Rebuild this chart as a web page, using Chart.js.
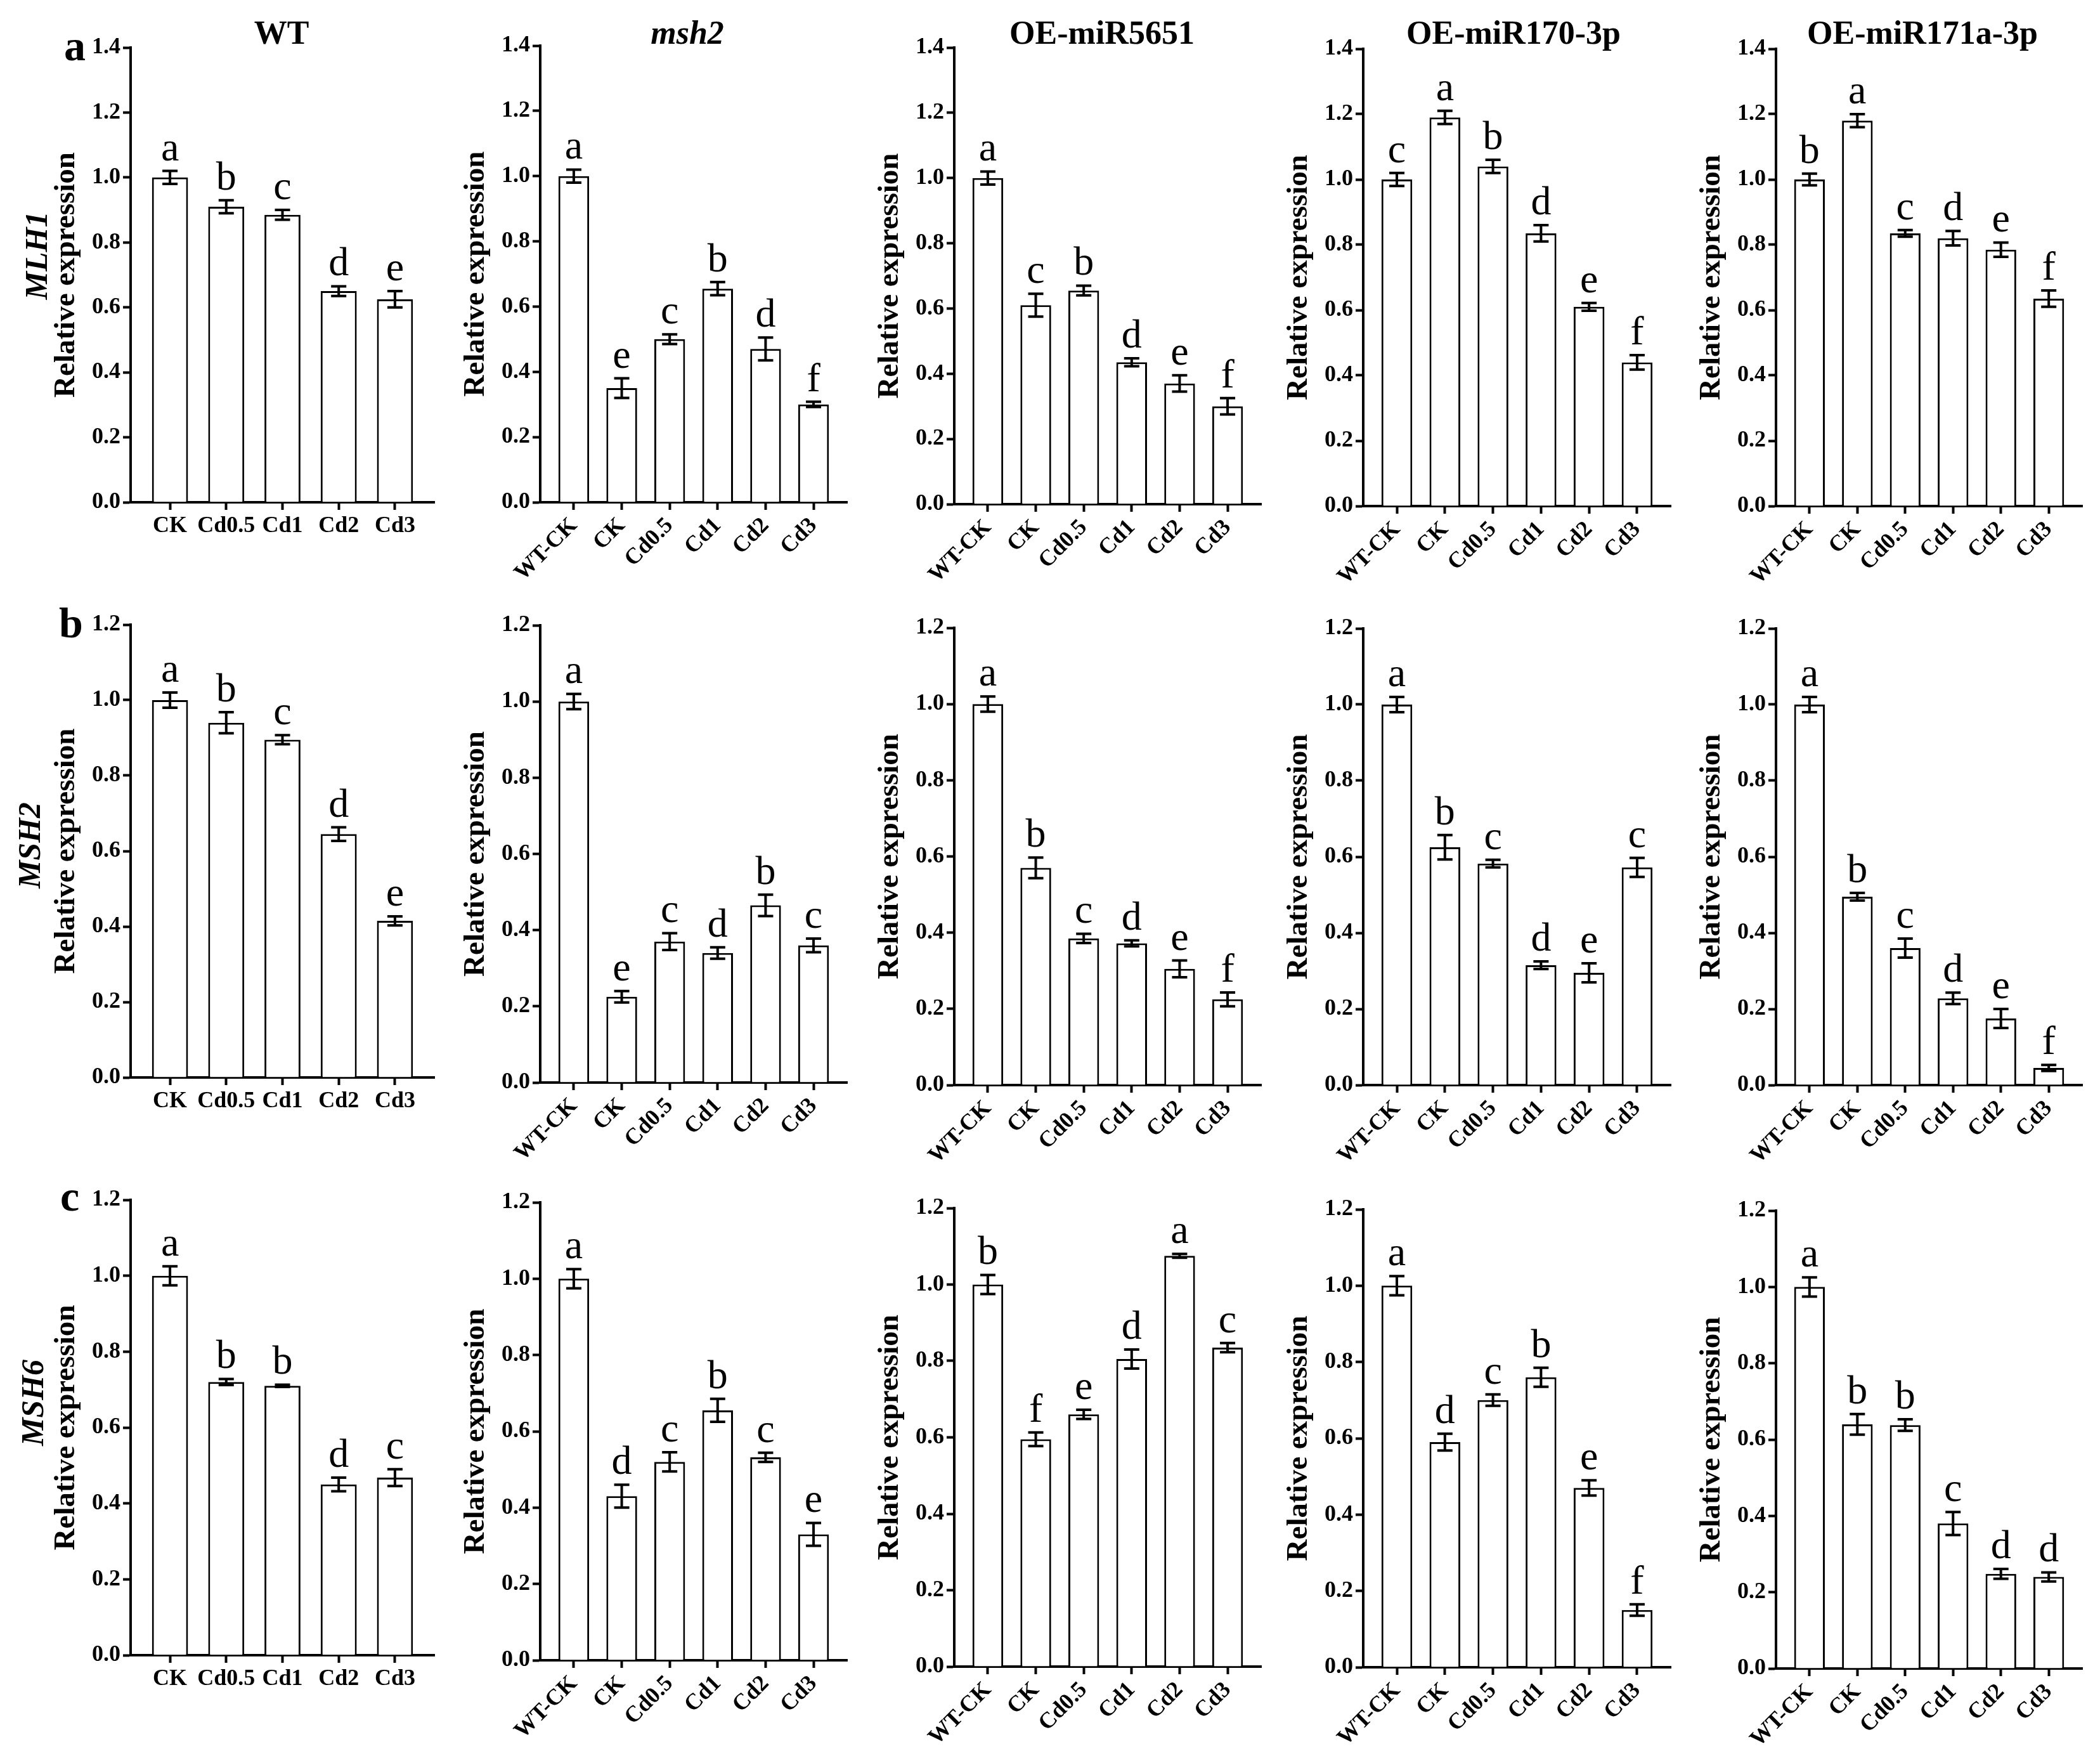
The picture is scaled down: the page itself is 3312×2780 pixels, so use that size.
<!DOCTYPE html>
<html>
<head>
    <meta charset="utf-8">
    <title>MLH1 / MSH2 / MSH6 relative expression</title>
    <script src="https://cdn.jsdelivr.net/npm/chart.js@4.4.1/dist/chart.umd.min.js"></script>
    <style>
        html, body { margin: 0; padding: 0; background: #fff; }
        #page {
            position: relative;
            width: 3312px;
            height: 2780px;
            overflow: hidden;
            font-family: "Liberation Serif", "Times New Roman", serif;
        }
        #page canvas { position: absolute; }
        .lbl {
            position: absolute;
            white-space: nowrap;
            line-height: 1;
            color: #000;
        }
    </style>
</head>
<body>
<div id="page"></div>

<script>
    // Groups, lines and genes
    const lineNames = ['WT', 'msh2', 'OE-miR5651', 'OE-miR170-3p', 'OE-miR171a-3p'];
    const genes = ['MLH1', 'MSH2', 'MSH6'];
    const panelTags = ['a', 'b', 'c'];
    const wtGroups = ['CK', 'Cd0.5', 'Cd1', 'Cd2', 'Cd3'];
    const lineGroups = ['WT-CK', 'CK', 'Cd0.5', 'Cd1', 'Cd2', 'Cd3'];
    const yMax = [1.4, 1.2, 1.2];
    const yTicks = [0, 0.2, 0.4, 0.6, 0.8, 1.0, 1.2, 1.4];

    // MLH1 (row a): one array per line
    const mlh1Mean = [
        [1.00, 0.91, 0.885, 0.65, 0.625],
        [1.00, 0.35, 0.50, 0.655, 0.47, 0.30],
        [1.00, 0.61, 0.655, 0.435, 0.37, 0.30],
        [1.00, 1.19, 1.04, 0.835, 0.61, 0.44],
        [1.00, 1.18, 0.835, 0.82, 0.785, 0.635]
    ];
    const mlh1Err = [
        [0.02, 0.02, 0.015, 0.015, 0.025],
        [0.02, 0.03, 0.015, 0.02, 0.035, 0.008],
        [0.02, 0.035, 0.015, 0.012, 0.025, 0.025],
        [0.02, 0.02, 0.02, 0.025, 0.012, 0.022],
        [0.018, 0.02, 0.01, 0.022, 0.022, 0.025]
    ];
    const mlh1Sig = [
        ['a', 'b', 'c', 'd', 'e'],
        ['a', 'e', 'c', 'b', 'd', 'f'],
        ['a', 'c', 'b', 'd', 'e', 'f'],
        ['c', 'a', 'b', 'd', 'e', 'f'],
        ['b', 'a', 'c', 'd', 'e', 'f']
    ];

    // MSH2 (row b)
    const msh2Mean = [
        [1.00, 0.94, 0.895, 0.645, 0.415],
        [1.00, 0.225, 0.37, 0.34, 0.465, 0.36],
        [1.00, 0.57, 0.385, 0.372, 0.305, 0.225],
        [1.00, 0.625, 0.582, 0.315, 0.295, 0.572],
        [1.00, 0.495, 0.36, 0.228, 0.175, 0.045]
    ];
    const msh2Err = [
        [0.02, 0.028, 0.012, 0.018, 0.012],
        [0.02, 0.015, 0.022, 0.015, 0.028, 0.018],
        [0.02, 0.027, 0.012, 0.008, 0.022, 0.018],
        [0.02, 0.032, 0.01, 0.01, 0.025, 0.025],
        [0.02, 0.01, 0.025, 0.015, 0.025, 0.008]
    ];
    const msh2Sig = [
        ['a', 'b', 'c', 'd', 'e'],
        ['a', 'e', 'c', 'd', 'b', 'c'],
        ['a', 'b', 'c', 'd', 'e', 'f'],
        ['a', 'b', 'c', 'd', 'e', 'c'],
        ['a', 'b', 'c', 'd', 'e', 'f']
    ];

    // MSH6 (row c)
    const msh6Mean = [
        [1.00, 0.72, 0.71, 0.45, 0.468],
        [1.00, 0.43, 0.52, 0.655, 0.532, 0.33],
        [1.00, 0.595, 0.66, 0.805, 1.075, 0.835],
        [1.00, 0.59, 0.70, 0.76, 0.47, 0.15],
        [1.00, 0.64, 0.638, 0.38, 0.248, 0.24]
    ];
    const msh6Err = [
        [0.025, 0.008, 0.003, 0.018, 0.022],
        [0.025, 0.03, 0.025, 0.03, 0.012, 0.03],
        [0.025, 0.018, 0.012, 0.025, 0.005, 0.012],
        [0.025, 0.022, 0.015, 0.025, 0.02, 0.015],
        [0.025, 0.027, 0.015, 0.03, 0.013, 0.012]
    ];
    const msh6Sig = [
        ['a', 'b', 'b', 'd', 'c'],
        ['a', 'd', 'c', 'b', 'c', 'e'],
        ['b', 'f', 'e', 'd', 'a', 'c'],
        ['a', 'd', 'c', 'b', 'e', 'f'],
        ['a', 'b', 'b', 'c', 'd', 'd']
    ];

    const means = [mlh1Mean, msh2Mean, msh6Mean];
    const errs = [mlh1Err, msh2Err, msh6Err];
    const sigs = [mlh1Sig, msh2Sig, msh6Sig];

    // Layout (pixels): plot area left/right per column, top/bottom per panel
    const colX = [[206, 685], [852, 1336], [1505, 1989], [2150, 2635], [2801, 3284]];
    const rowTop = [[75, 72, 75, 77, 77], [985, 986, 990, 991, 991], [1892, 1896, 1905, 1907, 1909]];
    const rowBottom = [[792, 792, 795, 798, 798], [1699, 1707, 1711, 1711, 1711], [2610, 2618, 2628, 2629, 2631]];
    const titleX = [444, 1084, 1738, 2387, 3032];
    const geneLabelPos = [[57, 403], [46, 1333], [51, 2212]];
    const tagPos = [[118, 95], [112, 1005], [110, 1909]];

    const FONT = '"Liberation Serif", "Times New Roman", serif';
    const YW = 175, XH = 200, PADT = 80, PADR = 20;

    const page = document.getElementById('page');

    // text placed by its baseline
    function addText(text, cx, baseline, size, style) {
        const d = document.createElement('div');
        d.className = 'lbl';
        d.textContent = text;
        d.style.fontSize = size + 'px';
        d.style.left = cx + 'px';
        d.style.top = (baseline - 0.84 * size) + 'px';
        d.style.transform = 'translateX(-50%)';
        Object.assign(d.style, style || {});
        page.appendChild(d);
    }

    function addRotated(text, cx, cy, size) {
        const d = document.createElement('div');
        d.className = 'lbl';
        d.textContent = text;
        d.style.fontSize = size + 'px';
        d.style.fontWeight = 'bold';
        d.style.fontStyle = 'italic';
        d.style.left = cx + 'px';
        d.style.top = cy + 'px';
        d.style.transform = 'translate(-50%, -50%) rotate(-90deg)';
        page.appendChild(d);
    }

    // Error bars and significance letters
    const errorBarPlugin = {
        id: 'errorBars',
        afterDatasetsDraw(chart, args, opts) {
            const ctx = chart.ctx;
            const y = chart.scales.y;
            const meta = chart.getDatasetMeta(0);
            const data = chart.data.datasets[0].data;
            ctx.save();
            ctx.strokeStyle = '#000';
            ctx.lineWidth = 4;
            ctx.fillStyle = '#000';
            ctx.font = '64px ' + FONT;
            ctx.textAlign = 'center';
            ctx.textBaseline = 'alphabetic';
            meta.data.forEach((bar, i) => {
                const v = data[i].y;
                const e = opts.errors[i];
                const top = y.getPixelForValue(v + e);
                const bot = y.getPixelForValue(v - e);
                const cap = 12;
                ctx.beginPath();
                ctx.moveTo(bar.x, top);
                ctx.lineTo(bar.x, bot);
                ctx.moveTo(bar.x - cap, top);
                ctx.lineTo(bar.x + cap, top);
                ctx.moveTo(bar.x - cap, bot);
                ctx.lineTo(bar.x + cap, bot);
                ctx.stroke();
                ctx.fillText(opts.letters[i], bar.x, top - 17);
            });
            ctx.restore();
        }
    };

    function makePanel(r, c) {
        const groups = c === 0 ? wtGroups : lineGroups;
        const n = groups.length;
        const L = colX[c][0], R = colX[c][1];
        const T = rowTop[r][c], B = rowBottom[r][c];

        const canvas = document.createElement('canvas');
        const w = R - L + YW + PADR;
        const h = B - T + PADT + XH;
        canvas.width = w;
        canvas.height = h;
        canvas.style.left = (L - YW) + 'px';
        canvas.style.top = (T - PADT) + 'px';
        canvas.style.width = w + 'px';
        canvas.style.height = h + 'px';
        page.appendChild(canvas);

        const rot = c === 0 ? 0 : 45;
        const axisGrid = {
            display: true,
            drawOnChartArea: false,
            drawTicks: true,
            tickLength: 12,
            tickWidth: 4,
            tickColor: '#000',
            offset: false
        };
        const axisBorder = { display: true, color: '#000', width: 4 };

        new Chart(canvas.getContext('2d'), {
            type: 'bar',
            data: {
                datasets: [{
                    data: means[r][c].map((v, i) => ({ x: i, y: v })),
                    backgroundColor: '#fff',
                    borderColor: '#000',
                    borderWidth: 3,
                    categoryPercentage: 1,
                    barPercentage: 0.64
                }]
            },
            options: {
                responsive: false,
                animation: false,
                devicePixelRatio: 1,
                layout: { padding: { top: PADT, right: PADR, bottom: 0, left: 0 } },
                plugins: {
                    legend: { display: false },
                    tooltip: { enabled: false },
                    errorBars: { errors: errs[r][c], letters: sigs[r][c] }
                },
                scales: {
                    x: {
                        type: 'linear',
                        offset: false,
                        bounds: 'data',
                        min: -0.7,
                        max: n - 0.3,
                        afterBuildTicks: s => { s.ticks = groups.map((g, i) => ({ value: i })); },
                        afterFit: s => { s.height = XH; },
                        grid: axisGrid,
                        border: axisBorder,
                        ticks: {
                            autoSkip: false,
                            minRotation: rot,
                            maxRotation: rot,
                            padding: 4,
                            color: '#000',
                            font: { family: FONT, size: 36, weight: 'bold' },
                            callback: (v, i) => groups[i]
                        }
                    },
                    y: {
                        min: 0,
                        max: yMax[r],
                        afterBuildTicks: s => {
                            s.ticks = yTicks.filter(t => t <= yMax[r] + 1e-9).map(t => ({ value: t }));
                        },
                        afterFit: s => { s.width = YW; },
                        grid: axisGrid,
                        border: axisBorder,
                        ticks: {
                            padding: 4,
                            color: '#000',
                            font: { family: FONT, size: 36, weight: 'bold' },
                            callback: v => v.toFixed(1)
                        },
                        title: {
                            display: true,
                            text: 'Relative expression',
                            color: '#000',
                            font: { family: FONT, size: 47, weight: 'bold' },
                            padding: { top: 46, bottom: 0 }
                        }
                    }
                }
            },
            plugins: [errorBarPlugin]
        });
    }

    // Column headings
    lineNames.forEach((name, c) => {
        addText(name, titleX[c], 70, 52, { fontWeight: 'bold', fontStyle: c === 1 ? 'italic' : 'normal' });
    });

    // Row tags and gene names
    genes.forEach((g, r) => {
        addText(panelTags[r], tagPos[r][0], tagPos[r][1], 68, { fontWeight: 'bold' });
        addRotated(g, geneLabelPos[r][0], geneLabelPos[r][1], 50);
    });

    for (let r = 0; r < 3; r++) {
        for (let c = 0; c < 5; c++) {
            makePanel(r, c);
        }
    }
</script>
</body>
</html>
